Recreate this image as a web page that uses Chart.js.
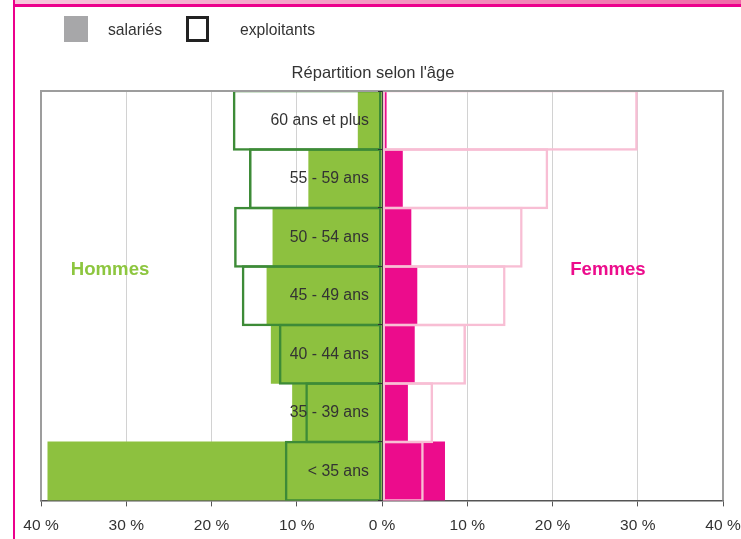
<!DOCTYPE html>
<html lang="fr">
<head>
<meta charset="utf-8">
<title>Répartition selon l'âge</title>
<script src="https://cdn.jsdelivr.net/npm/chart.js@4.4.1/dist/chart.umd.min.js"></script>
<style>
  body { margin: 0; background: #fff; }
  #wrap { position: relative; width: 741px; height: 539px; background: #fff; overflow: hidden;
          font-family: "Liberation Sans", Arial, sans-serif; color: #333; }
  #ageChart { position: absolute; left: 0; top: 0; }
  .band { position: absolute; left: 13px; top: 0; width: 728px; height: 4px;
          background: linear-gradient(to right, #f7c8dd, #f06aa8); }
  .bandLine { position: absolute; left: 13px; top: 4px; width: 728px; height: 3px; background: #ec008c; }
  .sideLine { position: absolute; left: 13px; top: 0; width: 2px; height: 539px; background: #ec008c; }
  .legendBox { position: absolute; top: 16px; box-sizing: border-box; }
  .legendText { position: absolute; top: 22px; font-size: 15.7px; line-height: 15.7px; white-space: nowrap; }
  #title { position: absolute; left: 223px; top: 64px; width: 300px; text-align: center;
           font-size: 16.5px; line-height: 16px; white-space: nowrap; }
</style>
</head>
<body>
<div id="wrap">
  <canvas id="ageChart" width="741" height="539"></canvas>
  <div class="band"></div>
  <div class="bandLine"></div>
  <div class="sideLine"></div>
  <div class="legendBox" style="left:64px;width:24px;height:26px;background:#a7a7a9;"></div>
  <div class="legendText" style="left:108px;">salariés</div>
  <div class="legendBox" style="left:186px;width:23px;height:26px;border:3px solid #222;background:#fff;"></div>
  <div class="legendText" style="left:240px;">exploitants</div>
  <div id="title">Répartition selon l'âge</div>
</div>
<script>
// age groups, top to bottom
const ageGroups = ["60 ans et plus", "55 - 59 ans", "50 - 54 ans", "45 - 49 ans", "40 - 44 ans", "35 - 39 ans", "< 35 ans"];

// share of each age group (%)
const hommesSalaries = [2.8, 8.6, 12.8, 13.5, 13.0, 10.5, 39.2];
const hommesExploitants = [17.5, 15.6, 17.35, 16.45, 12.1, 9.0, 11.4];
const femmesSalaries = [0.5, 2.4, 3.4, 4.1, 3.8, 3.0, 7.35];
const femmesExploitants = [30.0, 19.5, 16.5, 14.5, 9.85, 6.0, 4.9];

const xTicks = [-40, -30, -20, -10, 0, 10, 20, 30, 40];

const fontFamily = '"Liberation Sans", Arial, sans-serif';

// men go to the left
let hommesSalariesData = hommesSalaries.map(v => -v);
let hommesExploitantsData = hommesExploitants.map(v => -v);

// frame + side captions
const framePlugin = {
  id: "frame",
  afterDatasetsDraw(chart) {
    let ctx = chart.ctx;
    let a = chart.chartArea;
    let x = chart.scales.x;
    let y = chart.scales.y;
    ctx.save();
    ctx.strokeStyle = "#9d9d9d";
    ctx.lineWidth = 2;
    ctx.beginPath();
    ctx.moveTo(a.left, a.bottom);
    ctx.lineTo(a.left, a.top);
    ctx.lineTo(a.right, a.top);
    ctx.lineTo(a.right, a.bottom);
    ctx.stroke();

    ctx.font = "bold 18.6px " + fontFamily;
    ctx.textAlign = "center";
    ctx.textBaseline = "middle";
    ctx.fillStyle = "#8dc63f";
    ctx.fillText("Hommes", x.getPixelForValue(-31.9), y.getPixelForValue(2.56));
    ctx.fillStyle = "#ec0c8c";
    ctx.fillText("Femmes", x.getPixelForValue(26.5), y.getPixelForValue(2.56));
    ctx.restore();
  }
};

let ctx = document.getElementById("ageChart").getContext("2d");

window.ageChart = new Chart(ctx, {
  type: "bar",
  data: {
    labels: ageGroups,
    datasets: [
      {
        label: "Hommes exploitants",
        data: hommesExploitantsData,
        backgroundColor: "rgba(0,0,0,0)",
        borderColor: "#3d8b37",
        borderWidth: 2.5,
        borderSkipped: false,
        barPercentage: 1.043,
        clip: 0
      },
      {
        label: "Femmes exploitantes",
        data: femmesExploitants,
        backgroundColor: "rgba(0,0,0,0)",
        borderColor: "#f8bed4",
        borderWidth: 2.5,
        borderSkipped: false,
        barPercentage: 1.043,
        clip: 0
      },
      {
        label: "Hommes salariés",
        data: hommesSalariesData,
        backgroundColor: "#8dc13f",
        borderWidth: 0
      },
      {
        label: "Femmes salariées",
        data: femmesSalaries,
        backgroundColor: "#ec0c8c",
        borderWidth: 0
      }
    ]
  },
  options: {
    indexAxis: "y",
    responsive: false,
    animation: false,
    grouped: false,
    categoryPercentage: 1,
    barPercentage: 1,
    layout: { padding: { top: 91, left: 41, right: 18, bottom: -6 } },
    plugins: {
      legend: { display: false },
      title: { display: false },
      tooltip: { enabled: false }
    },
    scales: {
      x: {
        type: "linear",
        min: -40,
        max: 40,
        afterBuildTicks: function (axis) {
          axis.ticks = xTicks.map(v => ({ value: v }));
        },
        afterFit: function (axis) {
          // end labels may hang over the frame
          axis.paddingLeft = 0;
          axis.paddingRight = 0;
        },
        ticks: {
          padding: 10,
          color: "#333",
          font: { family: fontFamily, size: 15.5 },
          callback: function (value) {
            return Math.abs(value) + " %";
          }
        },
        grid: {
          color: "#d2d2d2",
          lineWidth: 1,
          tickLength: 6,
          tickColor: "#555"
        },
        border: { color: "#555", width: 1.5 }
      },
      y: {
        position: { x: 0 },
        ticks: {
          z: 1,
          color: "#333",
          font: { family: fontFamily, size: 15.8 },
          callback: function (value) {
            // keep a gap between label and axis
            return this.getLabelForValue(value) + "   ";
          }
        },
        grid: {
          z: 1,
          offset: true,
          drawOnChartArea: false,
          tickLength: 4,
          color: "#333"
        },
        border: { z: 1, color: "#444", width: 1 }
      }
    }
  },
  plugins: [framePlugin]
});
</script>
</body>
</html>
